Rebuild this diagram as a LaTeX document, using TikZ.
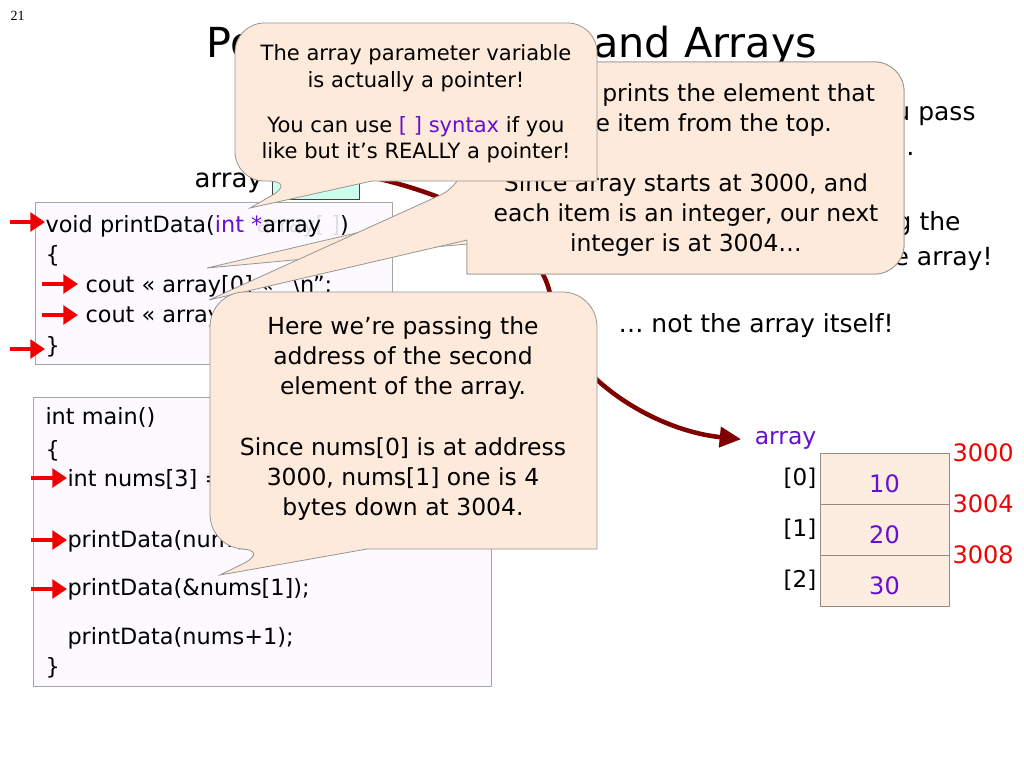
\documentclass[tikz,border=0pt]{standalone}
\usepackage{fontspec}
\setmainfont{DejaVu Sans}
\newfontfamily\pagenumfont{Liberation Serif}
\usetikzlibrary{arrows.meta}

\definecolor{bubblefill}{RGB}{253,234,218}
\definecolor{bubbleline}{RGB}{150,150,150}
\definecolor{codefill}{RGB}{252,250,255}
\definecolor{codeline}{RGB}{165,165,165}
\definecolor{codepurple}{RGB}{102,16,210}
\definecolor{ghost}{RGB}{222,220,232}
\definecolor{curred}{RGB}{240,0,0}
\definecolor{ptrred}{RGB}{128,0,0}
\definecolor{ptrteal}{RGB}{204,255,236}
\definecolor{cellfill}{RGB}{253,236,224}
\definecolor{cellline}{RGB}{150,140,130}
\definecolor{addrred}{RGB}{240,0,0}

\tikzset{every picture/.style={line width=0.75pt}}

\begin{document}
\begin{tikzpicture}[x=0.75pt,y=0.75pt,yscale=-1,xscale=1,
  bubble/.style={draw=bubbleline, fill=bubblefill, line width=0.6pt},
  codebox/.style={draw=codeline, fill=codefill, line width=0.6pt},
  codeln/.style={anchor=base west, inner sep=0pt, font=\fontsize{16.8}{20}\selectfont},
  bodytxt/.style={inner sep=0pt, font=\fontsize{18.75}{22}\selectfont},
  curarrow/.style={draw=curred, line width=3.6pt, -{Triangle[length=11pt,width=14pt]}},
  ptrarrow/.style={draw=ptrred, line width=3.4pt, shorten >=8pt, -{Triangle[length=16pt,width=15pt]}},
  ptrbox/.style={draw=black!75, fill=ptrteal, minimum width=65.25pt, minimum height=36.75pt, inner sep=0pt},
  memcell/.style={draw=cellline, fill=cellfill, minimum width=96.75pt, minimum height=38.25pt, inner sep=0pt,
    text=codepurple, font=\fontsize{18}{20}\selectfont, text height=20.6pt, text depth=0pt},
  idxlbl/.style={inner sep=2pt, font=\fontsize{17.3}{20}\selectfont},
  addrlbl/.style={inner sep=2pt, text=addrred, font=\fontsize{18}{20}\selectfont},
  arrlbl/.style={inner sep=2pt, text=codepurple, font=\fontsize{17.6}{20}\selectfont},
  co1txt/.style={align=center, inner sep=0pt, font=\fontsize{15.8}{19.9}\selectfont},
  co3txt/.style={align=center, inner sep=0pt, font=\fontsize{17.6}{22.5}\selectfont},
  co4txt/.style={align=center, inner sep=0pt, font=\fontsize{17.6}{22.5}\selectfont}
]
\useasboundingbox (0,0) rectangle (1024,768);
\fill[white] (0,0) rectangle (1024,768);

% Page number and title
\node[anchor=base west, inner sep=0pt, font=\pagenumfont\fontsize{10.5}{12}\selectfont] (pgnum) at (10,20) {21};
\node[anchor=base, inner sep=0pt, font=\fontsize{31}{36}\selectfont] (title) at (512,57) {Pointer Arithmetic and Arrays};

% Slide text behind the callouts
\node[bodytxt, anchor=base east] (b1) at (976,120) {When you pass};
\node[bodytxt, anchor=base east] (b2) at (915,155) {an array…};
\node[bodytxt, anchor=base east] (b3) at (961,230) {you’re really passing the};
\node[bodytxt, anchor=base east] (b4) at (993,265) {address of the array!};
\node[bodytxt, anchor=base west] (b5) at (618,332) {… not the array itself!};

% Code box: printData
\draw[codebox] (35,202) rectangle (392,364);
\node[codeln] (f1) at (45,232) {void printData(\textcolor{codepurple}{int }\rlap{\textcolor{ghost}{\hspace{0.25em}array[ ]}}\rlap{\textcolor{codepurple}{*}array}\hphantom{\hspace{0.25em}array[ ]})};
\node[codeln] (f2) at (45,262) {\{};
\node[codeln] (f3) at (85,292) {cout << array[0] << “\textbackslash n”;};
\node[codeln] (f4) at (85,322) {cout << array[1] << “\textbackslash n”;};
\node[codeln] (f5) at (45,353) {\}};

% Code box: main
\draw[codebox] (33,397) rectangle (491,686);
\node[codeln] (m1) at (45,424) {int main()};
\node[codeln] (m2) at (45,457) {\{};
\node[codeln] (m3) at (67,486) {int nums[3] = \{10, 20, 30\};};
\node[codeln] (m4) at (67,547) {printData(nums);};
\node[codeln] (m5) at (67,595) {printData(\&nums[1]);};
\node[codeln] (m6) at (67,644) {printData(nums+1);};
\node[codeln] (m7) at (45,674) {\}};

% Current line markers
\draw[curarrow] (10,222) -- (45,222);
\draw[curarrow] (42,284) -- (78,284);
\draw[curarrow] (42,315) -- (78,315);
\draw[curarrow] (10,349) -- (45,349);
\draw[curarrow] (31,478) -- (67,478);
\draw[curarrow] (31,540) -- (67,540);
\draw[curarrow] (31,589) -- (67,589);

% Pointer variable
\node[anchor=base east, inner sep=2pt, font=\fontsize{19.5}{22}\selectfont] (plbl) at (266,187) {array};
\node[ptrbox] (ptr) at (315.5,174.5) {};

% Array in memory
\node[memcell] (c0) at (884.5,478.5) {10};
\node[memcell] (c1) at (884.5,529.5) {20};
\node[memcell] (c2) at (884.5,580.5) {30};
\node[idxlbl, anchor=east] (i0) at (c0.west) {[0]};
\node[idxlbl, anchor=east] (i1) at (c1.west) {[1]};
\node[idxlbl, anchor=east] (i2) at (c2.west) {[2]};
\node[addrlbl, anchor=west] (a0) at (c0.north east) {3000};
\node[addrlbl, anchor=west] (a1) at (c1.north east) {3004};
\node[addrlbl, anchor=west] (a2) at (c2.north east) {3008};
\node[arrlbl, anchor=south east] (arr) at (c0.north west) {array};

% Pointer arrow
\draw[ptrarrow] (ptr.east) .. controls (470,197) and (545,245) .. (551,300) .. controls (559,371) and (650,430) .. (arr.west);

% Callout under the right one (only its tail shows)
\draw[bubble] (207,268) -- (467,244) -- (467,274) [rounded corners=22pt] -- (904,274) -- (904,62) -- (467,62) -- (467,207) [sharp corners] -- cycle;

% Callout: array[1]
\draw[bubble] (209,300) -- (467,240) -- (467,274) [rounded corners=22pt] -- (904,274) -- (904,62) -- (467,62) -- (467,183) [sharp corners] -- cycle;
\node[co3txt] (t3) at (686,170.5) {This line prints the element that\\is one item from the top.\\[22.5pt]Since array starts at 3000, and\\each item is an integer, our next\\integer is at 3004…};

% Callout: parameter
\draw[bubble] (250,208) -- (372,181) -- (597,181) [rounded corners=22pt] -- (597,23) -- (235,23) -- (235,181) -- (297,181) [sharp corners] -- cycle;
\node[co1txt] (t1) at (416,104) {The array parameter variable\\is actually a pointer!\\[14pt]You can use \textcolor{codepurple}{[ ] syntax} if you\\like but it’s REALLY a pointer!};

% Callout: &nums[1]
\draw[bubble] (220,575) -- (367,549) -- (597,549) [rounded corners=26pt] -- (597,292) -- (210,292) -- (210,549) -- (273,549) [sharp corners] -- cycle;
\node[co4txt] (t4) at (403,418.5) {Here we’re passing the\\address of the second\\element of the array.\\[23.5pt]Since nums[0] is at address\\3000, nums[1] one is 4\\bytes down at 3004.};

\end{tikzpicture}
\end{document}
